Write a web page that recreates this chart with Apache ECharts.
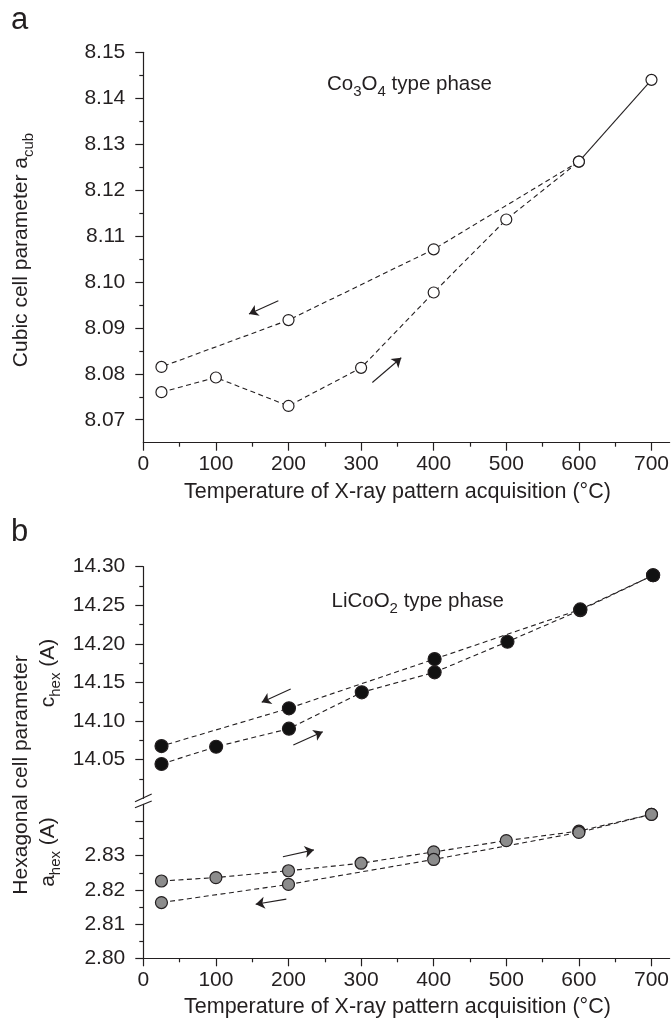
<!DOCTYPE html>
<html><head><meta charset="utf-8">
<script src="https://cdn.jsdelivr.net/npm/echarts@6/dist/echarts.min.js"></script>
<style>html,body{margin:0;padding:0;background:#fff}#c{width:672px;height:1023px}</style>
</head><body><div id="c"></div>
<script>
// ---------- data ----------
const xTickValues = [0, 100, 200, 300, 400, 500, 600, 700];
const xMinorValues = [50, 150, 250, 350, 450, 550, 650];
const aTickValues = [8.07, 8.08, 8.09, 8.10, 8.11, 8.12, 8.13, 8.14, 8.15];
const aMinorValues = [8.075, 8.085, 8.095, 8.105, 8.115, 8.125, 8.135, 8.145];
const cTickValues = [14.05, 14.10, 14.15, 14.20, 14.25, 14.30];
const cMinorValues = [14.025, 14.075, 14.125, 14.175, 14.225, 14.275];
const hTickValues = [2.80, 2.81, 2.82, 2.83, 2.84];
const hLabelValues = [2.80, 2.81, 2.82, 2.83];
const hMinorValues = [2.805, 2.815, 2.825, 2.835];

// panel a (Co3O4 type phase)
const heatT = [25, 100, 200, 300, 400, 500, 600, 700];
const aCubHeat = [8.0760, 8.0792, 8.0730, 8.0813, 8.0977, 8.1136, 8.1262, 8.1440];
const coolTa = [600, 400, 200, 25];
const aCubCool = [8.1262, 8.1071, 8.0917, 8.0815];

// panel b (LiCoO2 type phase)
const coolTb = [700, 600, 400, 200, 25];
const cHexHeat = [14.0444, 14.0668, 14.0902, 14.1373, 14.1632, 14.2028, 14.2436, 14.2889];
const cHexCool = [14.2889, 14.2446, 14.1804, 14.1166, 14.0677];
const aHexHeat = [2.8226, 2.8236, 2.8256, 2.8278, 2.8311, 2.8344, 2.8372, 2.8421];
const aHexCool = [2.8421, 2.8368, 2.8289, 2.8216, 2.8163];

// ---------- styling ----------
const INK = '#231f20';
const FONT = '"Liberation Sans", Arial, Helvetica, sans-serif';
const dash = [5, 3.5];
const zip = (xs, ys) => xs.map((x, i) => [x, ys[i]]);

const chart = echarts.init(document.getElementById('c'), null, {renderer: 'canvas'});

const L = 143.3, W = 528;
const grids = [
  {left: L, top: 52.3, width: W, height: 390.4},
  {left: L, top: 566.7, width: W, height: 231.6},
  {left: L, top: 804.4, width: W, height: 153.9}
];

function xMain(gi, show) {
  return {
    type: 'value', gridIndex: gi, min: 0, max: 725, position: 'bottom', show: show,
    splitLine: {show: false},
    axisLine: {show: true, onZero: false, lineStyle: {color: INK, width: 1.2}},
    axisTick: {show: true, inside: false, length: 8, customValues: xTickValues, lineStyle: {color: INK, width: 1.2}},
    axisLabel: {show: true, customValues: xTickValues, margin: 11, color: INK, fontSize: 21, fontFamily: FONT, formatter: v => String(v)},
    name: show ? 'Temperature of X-ray pattern acquisition (\u00B0C)' : '',
    nameLocation: 'middle', nameGap: 38,
    nameTextStyle: {color: INK, fontSize: 21.5, fontFamily: FONT, padding: [0, 18, 0, 0]}
  };
}
function xMinor(gi) {
  return {
    type: 'value', gridIndex: gi, min: 0, max: 725, position: 'bottom',
    splitLine: {show: false}, axisLine: {show: false},
    axisLabel: {show: false},
    axisTick: {show: true, inside: false, length: 4, customValues: xMinorValues, lineStyle: {color: INK, width: 1.2}}
  };
}
function yMain(gi, mn, mx, ticks, labels) {
  return {
    type: 'value', gridIndex: gi, min: mn, max: mx, position: 'left',
    splitLine: {show: false},
    axisLine: {show: true, onZero: false, lineStyle: {color: INK, width: 1.2}},
    axisTick: {show: true, inside: false, length: 8, customValues: ticks, lineStyle: {color: INK, width: 1.2}},
    axisLabel: {show: true, customValues: labels, margin: 18, color: INK, fontSize: 21, fontFamily: FONT, formatter: v => v.toFixed(2)}
  };
}
function yMinor(gi, mn, mx, ticks) {
  return {
    type: 'value', gridIndex: gi, min: mn, max: mx, position: 'left',
    splitLine: {show: false}, axisLine: {show: false}, axisLabel: {show: false},
    axisTick: {show: true, inside: false, length: 4, customValues: ticks, lineStyle: {color: INK, width: 1.2}}
  };
}

const xAxis = [xMain(0, true), xMinor(0), xMain(1, false), xMain(2, true), xMinor(2)];
const yAxis = [
  yMain(0, 8.065, 8.15, aTickValues, aTickValues), yMinor(0, 8.065, 8.15, aMinorValues),
  yMain(1, 14.00, 14.30, cTickValues, cTickValues), yMinor(1, 14.00, 14.30, cMinorValues),
  yMain(2, 2.80, 2.845, hTickValues, hLabelValues), yMinor(2, 2.80, 2.845, hMinorValues)
];

function arrows(list) {
  return {
    silent: true, symbol: ['none', 'arrow'], symbolSize: 9,
    label: {show: false},
    lineStyle: {type: 'solid', color: INK, width: 1.1},
    emphasis: {disabled: true},
    data: list.map(a => [{coord: a[0]}, {coord: a[1]}])
  };
}
function lineSeries(xi, yi, data, style, extra) {
  return Object.assign({
    type: 'line', xAxisIndex: xi, yAxisIndex: yi, data: data, symbol: 'none', z: 2,
    lineStyle: {color: INK, width: 1.1, type: style}, silent: true
  }, extra || {});
}
function pts(xi, yi, data, size, fill) {
  return {
    type: 'scatter', xAxisIndex: xi, yAxisIndex: yi, data: data, symbol: 'circle', symbolSize: size, z: 4,
    itemStyle: {color: fill, borderColor: INK, borderWidth: 1.2, opacity: 1}, silent: true
  };
}

const aHeatPts = zip(heatT, aCubHeat);
const series = [
  // panel a
  lineSeries(0, 0, aHeatPts.slice(0, 7), dash, {markLine: arrows([[[315.5, 8.0781], [355.3, 8.0835]], [[186, 8.0959], [145.6, 8.0930]]])}),
  lineSeries(0, 0, aHeatPts.slice(6), 'solid'),
  lineSeries(0, 0, zip(coolTa, aCubCool), dash),
  pts(0, 0, aHeatPts.concat(zip(coolTa, aCubCool)), 11, '#ffffff'),
  // panel b, c_hex
  lineSeries(2, 2, zip(heatT, cHexHeat), dash, {markLine: arrows([[[206, 14.069], [246.4, 14.0863]], [[202.4, 14.1416], [162.6, 14.1244]]])}),
  lineSeries(2, 2, zip(coolTb, cHexCool), dash),
  pts(2, 2, zip(heatT, cHexHeat).concat(zip(coolTb, cHexCool)), 13, '#111111'),
  // panel b, a_hex
  lineSeries(3, 4, zip(heatT, aHexHeat), dash, {markLine: arrows([[[192.3, 2.8297], [234.9, 2.8317]], [[197, 2.8173], [154.8, 2.8158]]])}),
  lineSeries(3, 4, zip(coolTb, aHexCool), dash),
  pts(3, 4, zip(heatT, aHexHeat).concat(zip(coolTb, aHexCool)), 12, '#8c8c8c')
];

const sub = {fontSize: 15, lineHeight: 15, verticalAlign: 'bottom', fontFamily: FONT, fill: INK};
function txt(x, y, text, size, opts) {
  return Object.assign({
    type: 'text', x: x, y: y, silent: true,
    style: Object.assign({text: text, fill: INK, fontSize: size, fontFamily: FONT, align: 'left', verticalAlign: 'middle', lineHeight: 30, rich: {s: sub}}, (opts && opts.style) || {})
  }, (opts && opts.el) || {});
}
const rot = Math.PI / 2;
const graphic = [
  txt(11, 20, 'a', 31),
  txt(11, 532.5, 'b', 31),
  txt(327, 84, 'Co{s|3}O{s|4} type phase', 20.5),
  txt(331.5, 601.5, 'LiCoO{s|2} type phase', 20.5),
  txt(21.5, 250, 'Cubic cell parameter a{s|cub}', 21, {style: {align: 'center'}, el: {rotation: rot}}),
  txt(21.5, 775, 'Hexagonal cell parameter', 21, {style: {align: 'center'}, el: {rotation: rot}}),
  txt(48, 673, 'c{s|hex} (A)', 21, {style: {align: 'center'}, el: {rotation: rot}}),
  txt(48, 852, 'a{s|hex} (A)', 21, {style: {align: 'center'}, el: {rotation: rot}}),
  {type: 'line', silent: true, shape: {x1: 135, y1: 801.7, x2: 151.7, y2: 794}, style: {stroke: INK, lineWidth: 1.2}},
  {type: 'line', silent: true, shape: {x1: 135, y1: 807.7, x2: 151.7, y2: 801}, style: {stroke: INK, lineWidth: 1.2}}
];

chart.setOption({
  animation: false,
  backgroundColor: '#ffffff',
  grid: grids,
  xAxis: xAxis,
  yAxis: yAxis,
  series: series,
  graphic: graphic
});
</script></body></html>
